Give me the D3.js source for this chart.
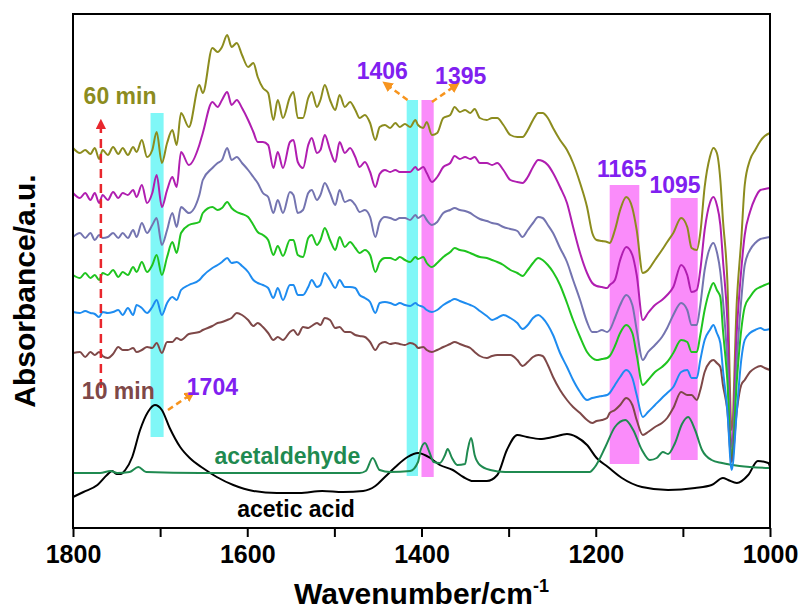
<!DOCTYPE html>
<html>
<head>
  <meta charset="utf-8">
  <title>In situ IR spectra</title>
  <script src="https://d3js.org/d3.v7.min.js"></script>
  <style>
    html, body { margin: 0; padding: 0; background: #fff; }
    svg { display: block; }
    text { font-family: "Liberation Sans", Arial, sans-serif; font-weight: bold; }
  </style>
</head>
<body>
  <svg width="802" height="611"></svg>
  <script>
    // wavenumber grid (cm-1) shared by the six time-resolved spectra
    const wavenumbers = [
      1800,1792,1786,1780,1775,1770,1766,1760,1754,1748,
      1743,1737,1731,1727,1721,1715,1709,1704,1698,1692,
      1686,1681,1676,1667,1655,1651,1640,1634,1629,1623,
      1618,1612,1606,1599,1593,1588,1582,1576,1570,1565,
      1559,1551,1547,1542,1536,1530,1526,1520,1516,1511,
      1505,1499,1494,1488,1482,1476,1471,1465,1459,1453,
      1448,1442,1436,1430,1425,1419,1413,1407,1404,1398,
      1394,1388,1382,1375,1367,1362,1356,1350,1344,1339,
      1333,1325,1319,1313,1306,1298,1290,1284,1278,1272,
      1266,1261,1255,1249,1241,1233,1226,1218,1210,1204,
      1199,1193,1187,1184,1178,1172,1165,1158,1153,1146,
      1140,1132,1124,1118,1111,1102,1095,1090,1084,1080,
      1075,1069,1065,1061,1057,1054,1049,1044,1038,1033,
      1029,1023,1017,1011,1006,1000
    ];

    // absorbance (a.u., stacked) for each reaction time
    const s60 = [
      3.80,3.75,3.78,3.74,3.80,3.69,3.78,3.73,3.81,3.74,
      3.80,3.73,3.81,3.76,3.88,3.71,3.78,3.96,3.65,3.85,
      3.98,3.83,4.15,4.01,4.43,4.35,4.80,4.76,4.81,4.93,
      4.81,4.85,4.73,4.61,4.65,4.51,4.40,4.35,4.08,4.28,
      4.10,4.31,4.36,4.10,4.10,4.30,4.36,4.21,4.28,4.43,
      4.28,4.18,4.33,4.21,4.26,4.18,4.10,4.13,4.05,3.88,
      4.01,4.03,4.00,4.05,4.01,4.04,4.01,4.08,4.03,4.00,
      4.06,3.93,3.95,4.10,4.13,4.21,4.16,4.18,4.15,4.19,
      4.10,4.08,4.10,4.10,4.03,3.93,3.91,3.91,3.98,4.08,
      4.15,4.15,4.10,4.00,3.88,3.78,3.65,3.45,3.21,2.95,
      2.88,2.87,2.86,2.85,2.98,3.18,3.31,3.20,2.98,2.55,
      2.58,2.68,2.78,2.86,2.95,3.10,3.01,2.80,2.78,2.95,
      3.41,3.71,3.80,3.75,3.48,3.08,2.48,0.98,2.28,2.88,
      3.43,3.68,3.78,3.87,3.92,3.95
    ];
    const s50 = [
      3.35,3.30,3.35,3.28,3.35,3.25,3.33,3.28,3.36,3.30,
      3.35,3.33,3.38,3.31,3.43,3.25,3.35,3.53,3.21,3.38,
      3.51,3.41,3.76,3.63,3.83,3.95,4.26,4.21,4.28,4.36,
      4.23,4.28,4.20,4.08,3.96,3.86,3.86,3.83,3.60,3.76,
      3.60,3.86,3.88,3.66,3.60,3.83,3.90,3.75,3.78,3.93,
      3.78,3.66,3.86,3.75,3.80,3.71,3.61,3.66,3.56,3.41,
      3.54,3.58,3.56,3.58,3.56,3.56,3.56,3.61,3.58,3.61,
      3.55,3.46,3.51,3.61,3.65,3.72,3.69,3.71,3.69,3.71,
      3.65,3.65,3.63,3.65,3.58,3.48,3.46,3.45,3.51,3.61,
      3.68,3.67,3.63,3.55,3.41,3.25,3.01,2.75,2.55,2.45,
      2.42,2.41,2.40,2.43,2.48,2.68,2.81,2.73,2.53,2.08,
      2.15,2.23,2.28,2.33,2.41,2.63,2.53,2.36,2.38,2.58,
      2.98,3.25,3.31,3.23,3.03,2.68,2.08,0.81,1.98,2.58,
      2.93,3.16,3.30,3.38,3.39,3.40
    ];
    const s40 = [
      2.91,2.95,2.90,2.95,2.88,2.93,2.90,2.91,2.95,2.90,
      2.95,2.90,2.98,2.91,3.05,2.95,3.03,3.10,2.83,2.98,
      3.15,3.01,3.21,3.15,3.33,3.48,3.60,3.65,3.68,3.80,
      3.68,3.71,3.65,3.58,3.51,3.45,3.35,3.31,3.15,3.28,
      3.15,3.36,3.33,3.15,3.18,3.35,3.38,3.28,3.33,3.45,
      3.35,3.23,3.38,3.26,3.28,3.23,3.16,3.18,3.11,2.91,
      3.06,3.11,3.10,3.08,3.10,3.10,3.08,3.13,3.10,3.13,
      3.08,3.03,3.06,3.15,3.18,3.20,3.18,3.17,3.15,3.12,
      3.09,3.07,3.05,3.04,3.01,2.99,2.97,2.91,2.98,3.05,
      3.11,3.10,3.03,2.95,2.80,2.66,2.48,2.28,2.06,1.96,
      1.96,1.98,1.96,1.98,2.10,2.23,2.33,2.23,1.98,1.68,
      1.76,1.83,1.91,2.00,2.13,2.25,2.18,2.03,2.03,2.23,
      2.58,2.80,2.85,2.76,2.56,2.28,1.68,0.73,1.68,2.28,
      2.63,2.78,2.85,2.89,2.90,2.91
    ];
    const s30 = [
      2.53,2.50,2.55,2.50,2.53,2.48,2.55,2.53,2.58,2.51,
      2.56,2.53,2.61,2.56,2.66,2.56,2.63,2.73,2.53,2.71,
      2.86,2.75,2.95,3.03,3.06,3.15,3.21,3.18,3.20,3.26,
      3.20,3.16,3.14,3.11,3.03,2.96,2.93,2.88,2.73,2.82,
      2.72,2.88,2.88,2.73,2.71,2.90,2.93,2.83,2.88,3.00,
      2.88,2.78,2.91,2.81,2.86,2.80,2.75,2.78,2.73,2.56,
      2.66,2.70,2.70,2.68,2.71,2.68,2.66,2.71,2.69,2.71,
      2.65,2.61,2.65,2.71,2.76,2.80,2.78,2.77,2.75,2.73,
      2.71,2.70,2.68,2.66,2.63,2.58,2.55,2.52,2.58,2.65,
      2.70,2.68,2.63,2.56,2.43,2.25,2.08,1.91,1.76,1.70,
      1.68,1.69,1.70,1.72,1.82,1.95,2.03,1.95,1.73,1.43,
      1.48,1.56,1.61,1.66,1.75,1.88,1.86,1.76,1.76,1.93,
      2.18,2.38,2.45,2.38,2.31,1.98,1.48,0.68,1.48,1.98,
      2.21,2.31,2.38,2.41,2.43,2.45
    ];
    const s20 = [
      2.16,2.15,2.17,2.15,2.14,2.11,2.16,2.15,2.16,2.18,
      2.13,2.20,2.13,2.23,2.20,2.15,2.21,2.28,2.13,2.25,
      2.31,2.28,2.38,2.43,2.48,2.52,2.60,2.63,2.66,2.70,
      2.65,2.66,2.62,2.56,2.48,2.45,2.43,2.40,2.30,2.40,
      2.28,2.43,2.43,2.33,2.33,2.41,2.48,2.41,2.43,2.55,
      2.48,2.40,2.48,2.41,2.41,2.40,2.33,2.30,2.26,2.15,
      2.25,2.26,2.25,2.23,2.25,2.23,2.22,2.25,2.23,2.21,
      2.18,2.16,2.18,2.23,2.27,2.29,2.27,2.25,2.23,2.21,
      2.17,2.12,2.08,2.10,2.13,2.10,2.05,1.99,2.03,2.10,
      2.13,2.10,2.03,1.93,1.75,1.61,1.48,1.36,1.28,1.30,
      1.31,1.32,1.33,1.35,1.43,1.51,1.58,1.50,1.33,1.11,
      1.16,1.23,1.30,1.35,1.41,1.56,1.58,1.50,1.50,1.68,
      1.88,1.98,2.03,1.95,1.85,1.58,1.18,0.58,1.18,1.68,
      1.88,1.95,1.98,2.00,1.98,1.99
    ];
    const s10 = [
      1.75,1.76,1.71,1.76,1.73,1.76,1.72,1.70,1.74,1.81,
      1.78,1.78,1.80,1.76,1.78,1.81,1.80,1.85,1.75,1.86,
      1.86,1.90,1.88,1.94,1.96,1.98,2.02,2.05,2.06,2.08,
      2.10,2.15,2.13,2.08,2.02,2.05,2.01,1.95,1.88,1.91,
      1.88,1.96,1.98,1.93,2.01,2.00,2.02,2.05,2.03,2.10,
      2.08,2.00,2.01,1.96,1.96,1.93,1.92,1.91,1.86,1.78,
      1.84,1.86,1.84,1.85,1.84,1.83,1.85,1.83,1.80,1.81,
      1.78,1.76,1.78,1.81,1.84,1.86,1.84,1.82,1.80,1.76,
      1.72,1.70,1.72,1.73,1.73,1.73,1.68,1.62,1.66,1.71,
      1.73,1.72,1.63,1.51,1.38,1.28,1.21,1.15,1.08,1.05,
      1.07,1.08,1.10,1.15,1.18,1.23,1.30,1.23,1.08,0.93,
      0.96,1.01,1.05,1.10,1.20,1.36,1.33,1.33,1.28,1.38,
      1.56,1.66,1.68,1.65,1.61,1.43,1.18,0.66,1.18,1.43,
      1.48,1.56,1.60,1.62,1.60,1.58
    ];

    // reference spectra [wavenumber, absorbance]
    const acetaldehyde = [
      [1800,0.55],[1769,0.55],[1757,0.57],[1749,0.55],[1735,0.56],[1725,0.61],[1716,0.56],
      [1654,0.55],[1540,0.55],[1471,0.55],[1464,0.57],[1456,0.70],[1448,0.58],[1436,0.56],
      [1413,0.57],[1404,0.66],[1401,0.78],[1396,0.85],[1391,0.76],[1386,0.66],[1379,0.65],
      [1373,0.73],[1370,0.79],[1365,0.70],[1359,0.63],[1350,0.64],[1347,0.78],[1343,0.90],
      [1339,0.73],[1333,0.63],[1321,0.58],[1304,0.56],[1207,0.56],[1201,0.61],[1189,0.81],
      [1178,1.01],[1166,1.08],[1157,0.98],[1147,0.78],[1138,0.68],[1130,0.70],[1123,0.76],
      [1117,0.74],[1109,0.85],[1101,1.04],[1094,1.11],[1086,0.98],[1078,0.78],[1067,0.68],
      [1055,0.65],[1035,0.62],[1000,0.60]
    ];
    const aceticAcid = [
      [1800,0.31],[1788,0.36],[1772,0.43],[1761,0.53],[1755,0.57],[1750,0.54],[1745,0.54],
      [1740,0.58],[1732,0.71],[1723,0.98],[1714,1.16],[1706,1.23],[1698,1.18],[1689,1.00],
      [1677,0.81],[1666,0.70],[1651,0.60],[1635,0.51],[1616,0.43],[1593,0.37],[1566,0.35],
      [1540,0.35],[1514,0.37],[1490,0.36],[1467,0.37],[1453,0.42],[1442,0.51],[1430,0.61],
      [1416,0.71],[1404,0.75],[1390,0.70],[1379,0.63],[1364,0.58],[1352,0.51],[1341,0.47],
      [1325,0.47],[1313,0.53],[1302,0.78],[1290,0.93],[1279,0.91],[1264,0.89],[1249,0.91],
      [1233,0.94],[1222,0.91],[1210,0.83],[1199,0.70],[1186,0.61],[1170,0.50],[1147,0.41],
      [1117,0.38],[1086,0.40],[1067,0.43],[1054,0.50],[1048,0.48],[1038,0.45],[1025,0.53],
      [1014,0.67],[1002,0.65],[1000,0.61]
    ];

    const xTicks = [1800, 1600, 1400, 1200, 1000];
    const xMinorTicks = [1700, 1500, 1300, 1100];

    // highlighted bands: [from, to, top, bottom]
    const cyanBands = [[1711, 1696, 4.15, 0.91], [1417, 1404, 4.28, 0.52]];
    const pinkBands = [[1400, 1386, 4.28, 0.51], [1184, 1150, 3.43, 0.64], [1114, 1083, 3.30, 0.68]];

    // peak labels: [text, wavenumber, absorbance at baseline]
    const peakLabels = [["1704", 1640, 1.33], ["1406", 1445, 4.49], ["1395", 1355, 4.44],
                        ["1165", 1170, 3.51], ["1095", 1109, 3.35]];
    // orange arrows: [from w, from a, to w, to a]
    const peakArrows = [[1691, 1.18, 1664, 1.34], [1416, 4.28, 1441, 4.44], [1388, 4.26, 1360, 4.43]];

    const svg = d3.select("svg");
    const x = d3.scaleLinear().domain([1800, 1000]).range([73, 770]);
    const y = d3.scaleLinear().domain([0, 5.14]).range([528, 14]);

    const defs = svg.append("defs");
    function addMarker(id, color) {
      defs.append("marker")
        .attr("id", id)
        .attr("viewBox", "0 0 10 10")
        .attr("refX", 6).attr("refY", 5)
        .attr("markerWidth", 4.2).attr("markerHeight", 4.2)
        .attr("orient", "auto")
        .append("path")
        .attr("d", "M0,0 L10,5 L0,10 z")
        .attr("fill", color);
    }
    addMarker("headRed", "#e8262d");
    addMarker("headOrange", "#f7941d");

    // bands
    const bandG = svg.append("g");
    function drawBands(list, color) {
      bandG.selectAll(null)
        .data(list)
        .enter()
        .append("rect")
        .attr("x", d => x(d[0]))
        .attr("width", d => x(d[1]) - x(d[0]))
        .attr("y", d => y(d[2]))
        .attr("height", d => y(d[3]) - y(d[2]))
        .attr("fill", color);
    }
    drawBands(cyanBands, "#80f7f7");
    drawBands(pinkBands, "#fa8cfa");

    const line = d3.line()
      .x(d => x(d[0]))
      .y(d => y(d[1]))
      .curve(d3.curveMonotoneX);

    svg.append("path").datum(aceticAcid)
      .attr("d", line).attr("fill", "none").attr("stroke", "#000").attr("stroke-width", 2);
    svg.append("path").datum(acetaldehyde)
      .attr("d", line).attr("fill", "none").attr("stroke", "#1f8a50").attr("stroke-width", 2);

    const series = [
      { values: s60, color: "#8c8c1e" },
      { values: s50, color: "#b01eb0" },
      { values: s40, color: "#7474b0" },
      { values: s30, color: "#1fc41f" },
      { values: s10, color: "#7e4848" },
      { values: s20, color: "#1e8cf0" }
    ];
    svg.append("g").selectAll("path")
      .data(series)
      .enter()
      .append("path")
      .attr("d", s => line(wavenumbers.map((w, i) => [w, s.values[i]])))
      .attr("fill", "none")
      .attr("stroke", s => s.color)
      .attr("stroke-width", 2);

    // frame
    svg.append("rect")
      .attr("x", x(1800)).attr("y", y(5.14))
      .attr("width", x(1000) - x(1800)).attr("height", y(0) - y(5.14))
      .attr("fill", "none").attr("stroke", "#000").attr("stroke-width", 2);

    // x axis
    const axisG = svg.append("g").attr("transform", `translate(0,${y(0)})`);
    axisG.call(d3.axisBottom(x).tickValues(xTicks).tickSize(9).tickPadding(8).tickFormat(d3.format("d")));
    const minorG = svg.append("g").attr("transform", `translate(0,${y(0)})`);
    minorG.call(d3.axisBottom(x).tickValues(xMinorTicks).tickSize(9).tickFormat(""));
    svg.selectAll(".domain").remove();
    svg.selectAll(".tick line").attr("stroke", "#000").attr("stroke-width", 2);
    axisG.selectAll(".tick text")
      .attr("fill", "#000")
      .style("font-size", "25px")
      .style("font-family", "'Liberation Sans', Arial, sans-serif")
      .style("font-weight", "bold");

    // axis titles
    const xTitle = svg.append("text")
      .attr("x", (x(1800) + x(1000)) / 2).attr("y", 604)
      .attr("text-anchor", "middle")
      .style("font-size", "30px");
    xTitle.append("tspan").text("Wavenumber/cm");
    xTitle.append("tspan").attr("dy", -12).style("font-size", "18px").text("-1");

    svg.append("text")
      .attr("transform", `translate(35,${(y(0) + y(5.14)) / 2 + 20}) rotate(-90)`)
      .attr("text-anchor", "middle")
      .style("font-size", "30px")
      .text("Absorbance/a.u.");

    // time arrow
    svg.append("line")
      .attr("x1", x(1768)).attr("x2", x(1768))
      .attr("y1", y(1.40)).attr("y2", y(4.05))
      .attr("stroke", "#e8262d").attr("stroke-width", 2.5)
      .attr("stroke-dasharray", "9,6")
      .attr("marker-end", "url(#headRed)");

    svg.append("text").attr("x", x(1746)).attr("y", y(4.24))
      .attr("text-anchor", "middle").attr("fill", "#8c8c1e")
      .style("font-size", "23px").text("60 min");
    svg.append("text").attr("x", x(1748)).attr("y", y(1.29))
      .attr("text-anchor", "middle").attr("fill", "#7e4848")
      .style("font-size", "23px").text("10 min");

    svg.append("text").attr("x", x(1554)).attr("y", y(0.64))
      .attr("text-anchor", "middle").attr("fill", "#1f8a50")
      .style("font-size", "23px").text("acetaldehyde");
    svg.append("text").attr("x", x(1544)).attr("y", y(0.11))
      .attr("text-anchor", "middle").attr("fill", "#000")
      .style("font-size", "23px").text("acetic acid");

    // peak labels and arrows
    svg.append("g").selectAll("line")
      .data(peakArrows)
      .enter()
      .append("line")
      .attr("x1", d => x(d[0])).attr("y1", d => y(d[1]))
      .attr("x2", d => x(d[2])).attr("y2", d => y(d[3]))
      .attr("stroke", "#f7941d").attr("stroke-width", 2.5)
      .attr("stroke-dasharray", "6,4")
      .attr("marker-end", "url(#headOrange)");

    svg.append("g").selectAll("text")
      .data(peakLabels)
      .enter()
      .append("text")
      .attr("x", d => x(d[1])).attr("y", d => y(d[2]))
      .attr("text-anchor", "middle")
      .attr("fill", "#8020f0")
      .style("font-size", "23px")
      .text(d => d[0]);
  </script>
</body>
</html>
